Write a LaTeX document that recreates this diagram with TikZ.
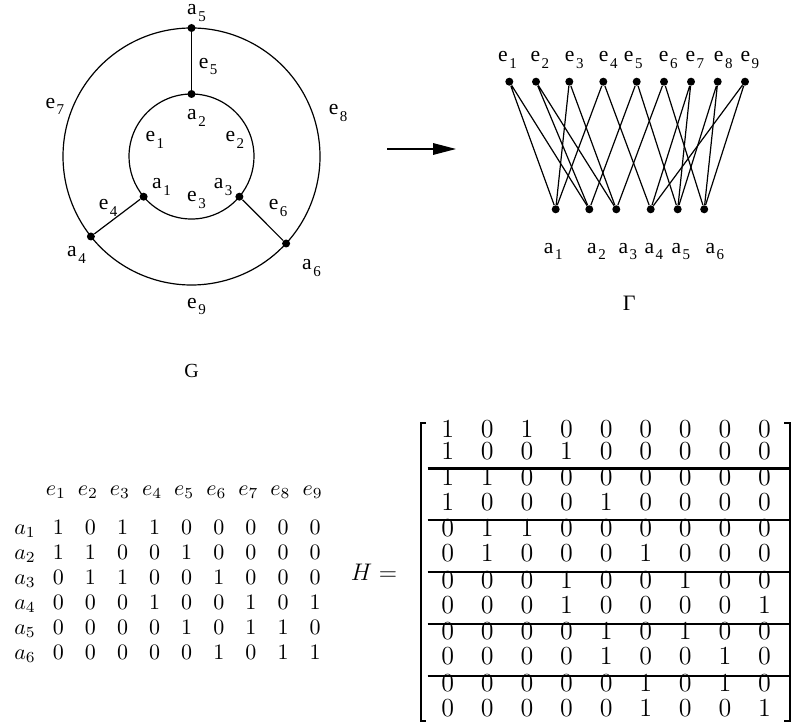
\RequirePackage{fix-cm}
\documentclass[tikz,border=0pt]{standalone}
\usepackage[no-math]{fontspec}
\newfontfamily\timesfont{Liberation Serif}
\usetikzlibrary{arrows.meta}

\newcommand{\sublab}[2]{#1\kern0.8pt\raisebox{-3.4pt}{\fontsize{7.5}{7.5}\selectfont #2}}

\begin{document}
\begin{tikzpicture}[x=0.5pt, y=-0.5pt,
    vertex/.style={circle, fill=black, inner sep=0pt, minimum size=4pt},
    glabel/.style={anchor=base west, inner sep=0pt, font=\timesfont\fontsize{10.8}{12}\selectfont},
    edge/.style={line width=0.6pt},
    cell/.style={anchor=base, inner sep=0pt, font=\fontsize{11}{13}\selectfont},
    hcell/.style={anchor=base, inner sep=0pt, font=\fontsize{13}{15}\selectfont},
    rule/.style={line width=1.25pt},
    bracket/.style={line width=1pt}]

    \useasboundingbox (0,0) rectangle (795,726);

    % Draw graph G
    \node[vertex] (a1) at (143.6,196.7) {};
    \node[vertex] (a2) at (191.5,94) {};
    \node[vertex] (a3) at (239.4,196.7) {};
    \node[vertex] (a4) at (90.9,236.5) {};
    \node[vertex] (a5) at (191.5,28) {};
    \node[vertex] (a6) at (286.1,243.5) {};

    % Inner and outer circles
    \draw[edge] (a2.center) arc[start angle=-90, end angle=-220, radius=62.5];
    \draw[edge] (a2.center) arc[start angle=-90, end angle=40, radius=62.5];
    \draw[edge] (a1.center) arc[start angle=-220, end angle=-320, radius=62.5];
    \draw[edge] (a5.center) arc[start angle=-90, end angle=-218.5, radius=128.5];
    \draw[edge] (a5.center) arc[start angle=-90, end angle=42.6, radius=128.5];
    \draw[edge] (a4.center) arc[start angle=-218.5, end angle=-317.4, radius=128.5];

    % Spokes
    \draw[edge] (a2) -- (a5);
    \draw[edge] (a1) -- (a4);
    \draw[edge] (a3) -- (a6);

    % Label vertices and edges of G
    \foreach \n/\l/\s/\x/\y in {la5/a/5/186.8/14.9, le5/e/5/198.4/68.2,
        le7/e/7/45.1/108.2, le8/e/8/328.4/114.9, la2/a/2/186.8/119.9,
        le1/e/1/145.1/141.6, le2/e/2/225.1/141.6, la1/a/1/151.8/188.9,
        la3/a/3/213.4/188.9, le3/e/3/186.8/201.6, le4/e/4/98.4/209.9,
        le6/e/6/268.4/209.9, la4/a/4/66.8/256.6, la6/a/6/301.8/269.9,
        le9/e/9/186.8/308.2}
      \node[glabel] (\n) at (\x,\y) {\sublab{\l}{\s}};
    \node[font=\timesfont\fontsize{10}{12}\selectfont] (Glab) at (191.7,371) {G};

    % Arrow
    \coordinate (arrS) at (387.3,149);
    \coordinate (arrE) at (456,149);
    \draw[edge, -{Triangle[length=11.5pt, width=5.8pt]}] (arrS) -- (arrE);

    % Draw graph Gamma
    \foreach \x [count=\i] in {509.3,536,569.3,603.3,636.7,664,691,717.7,745}
      \node[vertex] (ge\i) at (\x,81.7) {};
    \foreach \x [count=\i] in {555.7,589.3,616.3,650.7,677.7,704.2}
      \node[vertex] (ga\i) at (\x,209.3) {};
    \foreach \e/\a/\b in {1/1/2, 2/2/3, 3/1/3, 4/1/4, 5/2/5, 6/3/6, 7/4/5, 8/5/6, 9/4/6}
      \draw[edge] (ge\e) -- (ga\a) (ge\e) -- (ga\b);

    \foreach \x [count=\i] in {497.8,530.1,564.4,598.4,623.4,658.4,685.1,713.4,740.1}
      \node[glabel] (gle\i) at (\x,61.6) {\sublab{e}{\i}};
    \foreach \x [count=\i] in {543.4,586.8,618.1,644.1,671.1,705.1}
      \node[glabel] (gla\i) at (\x,253.2) {\sublab{a}{\i}};
    \node[font=\timesfont\fontsize{11}{13}\selectfont] (Gam) at (629.3,303.3) {Γ};

    % Incidence matrix
    \foreach \j in {1,...,9}
      \node[cell] (ce\j) at ({55.8+32.1*(\j-1)},495) {$e_{\j}$};
    \foreach \row [count=\i] in {{1,0,1,1,0,0,0,0,0},{1,1,0,0,1,0,0,0,0},
        {0,1,1,0,0,1,0,0,0},{0,0,0,1,0,0,1,0,1},{0,0,0,0,1,0,1,1,0},
        {0,0,0,0,0,1,0,1,1}} {
      \node[cell] (ra\i) at (25,{534+25*(\i-1)}) {$a_{\i}$};
      \foreach \v [count=\j] in \row
        \node[cell] (m\i-\j) at ({58.3+32.1*(\j-1)},{534+25*(\i-1)}) {$\v$};
    }

    % Matrix H
    \node[font=\fontsize{12}{14}\selectfont] (Heq) at (374,572) {$H =$};
    \foreach \row [count=\i] in {{1,0,1,0,0,0,0,0,0},{1,0,0,1,0,0,0,0,0},
        {1,1,0,0,0,0,0,0,0},{1,0,0,0,1,0,0,0,0},{0,1,1,0,0,0,0,0,0},
        {0,1,0,0,0,1,0,0,0},{0,0,0,1,0,0,1,0,0},{0,0,0,1,0,0,0,0,1},
        {0,0,0,0,1,0,1,0,0},{0,0,0,0,1,0,0,1,0},{0,0,0,0,0,1,0,1,0},
        {0,0,0,0,0,1,0,0,1}} {
      \pgfmathsetmacro{\yy}{{437.6,459.4,485.4,510.4,536.9,561.9,588.4,613.4,639.9,664.9,691.4,716.4}[\i-1]}
      \foreach \v [count=\j] in \row
        \node[hcell] (h\i-\j) at ({447.7+39.6*(\j-1)},\yy) {$\v$};
    }
    \foreach \y in {468.3,520,572,624,676}
      \draw[rule] (427.5,\y) -- (788.5,\y);
    \draw[bracket] (426,422.7) -- (420.5,422.7) -- (420.5,721) -- (426,721);
    \draw[bracket] (784,422.7) -- (789.5,422.7) -- (789.5,721) -- (784,721);
\end{tikzpicture}
\end{document}
